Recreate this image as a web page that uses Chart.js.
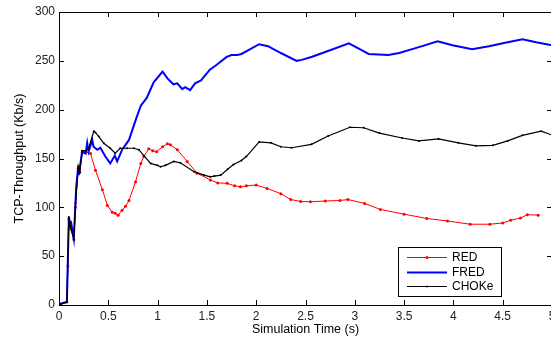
<!DOCTYPE html>
<html>
<head>
<meta charset="utf-8">
<script src="https://cdn.jsdelivr.net/npm/chart.js@4.4.1/dist/chart.umd.min.js"></script>
<style>
    html, body { margin: 0; padding: 0; background: #fff; overflow: hidden; }
</style>
</head>
<body>
<canvas id="mainChart" width="560" height="342"></canvas>
<script>
// valori
const redTime = [0, 0.08, 0.09, 0.1, 0.117, 0.15, 0.167, 0.195, 0.21, 0.235, 0.27, 0.32, 0.37, 0.44, 0.49, 0.54, 0.57, 0.6, 0.64, 0.675, 0.71, 0.776, 0.83, 0.86, 0.91, 0.95, 0.99, 1.05, 1.1, 1.13, 1.2, 1.3, 1.4, 1.535, 1.61, 1.706, 1.78, 1.84, 1.9, 2.0, 2.11, 2.25, 2.35, 2.45, 2.55, 2.7, 2.85, 2.93, 3.1, 3.26, 3.5, 3.73, 3.94, 4.17, 4.37, 4.5, 4.58, 4.68, 4.75, 4.86];
const redValue = [0, 3, 40, 88, 78, 67, 100, 140, 136, 156, 157, 155, 138, 118, 102, 95, 94, 92, 97, 101, 107, 126, 145, 152, 160, 158, 157, 162, 165, 164, 159, 147, 135, 128, 125, 124.6, 122, 121, 122, 122.8, 119.4, 114, 108, 106, 105.7, 106.5, 107, 108, 104, 97.8, 93, 88.6, 86, 82.7, 82.7, 84, 86.8, 89, 92.5, 92];

const fredTime = [0, 0.08, 0.1, 0.117, 0.12, 0.15, 0.167, 0.175, 0.195, 0.2, 0.21, 0.235, 0.27, 0.286, 0.3, 0.337, 0.35, 0.39, 0.42, 0.47, 0.52, 0.566, 0.59, 0.64, 0.71, 0.78, 0.83, 0.89, 0.96, 1.05, 1.1, 1.16, 1.2, 1.25, 1.28, 1.33, 1.38, 1.44, 1.53, 1.6, 1.7, 1.75, 1.81, 1.85, 1.94, 2.03, 2.12, 2.25, 2.41, 2.46, 2.56, 2.7, 2.94, 3.05, 3.14, 3.34, 3.45, 3.65, 3.84, 3.99, 4.19, 4.36, 4.55, 4.7, 4.84, 5.0];
const fredValue = [1, 3, 90, 80, 86, 68, 104, 121, 142, 133, 140, 157, 155, 166, 157, 169, 162, 159, 161, 152, 145, 153, 147, 159, 169, 190, 204, 212, 228, 239, 232, 226, 227, 221, 223, 220, 227, 230, 241, 246, 254, 256, 256, 257, 262, 267, 265, 258, 250, 251, 254, 259, 268, 262, 257, 256, 258, 264, 270, 266, 262, 265, 269, 272, 269, 266];

const chokeTime = [0, 0.08, 0.1, 0.117, 0.15, 0.167, 0.195, 0.21, 0.235, 0.27, 0.3, 0.353, 0.37, 0.404, 0.454, 0.52, 0.57, 0.62, 0.69, 0.76, 0.81, 0.86, 0.93, 0.997, 1.03, 1.08, 1.164, 1.23, 1.37, 1.47, 1.535, 1.575, 1.64, 1.71, 1.77, 1.85, 1.9, 2.03, 2.15, 2.25, 2.36, 2.56, 2.73, 2.95, 3.09, 3.25, 3.48, 3.65, 3.85, 4.05, 4.23, 4.4, 4.55, 4.7, 4.89, 5.0];
const chokeValue = [0, 3, 90, 80, 68, 104, 142, 136, 158, 158, 160, 178, 176.5, 172.5, 165.6, 160.5, 155.4, 160.5, 160.5, 160.5, 159, 153, 145, 143, 141.6, 143, 147, 145.6, 136.5, 133, 131.3, 132, 133, 139, 143.8, 148, 152, 167, 166, 162, 161, 164.5, 173, 182, 181.5, 176, 171, 168, 170, 166, 163, 163.5, 168, 173.7, 178, 174];

const xTicks = [0, 0.5, 1, 1.5, 2, 2.5, 3, 3.5, 4, 4.5, 5];
const yTicks = [0, 50, 100, 150, 200, 250, 300];
const seriesNames = ['RED', 'FRED', 'CHOKe'];

const toPoints = (t, v) => t.map((x, i) => ({ x: x, y: v[i] }));

Chart.defaults.font.family = '"Liberation Sans", Arial, sans-serif';
Chart.defaults.font.size = 12;
Chart.defaults.color = '#222';

// rama, tick-uri spre interior si legenda in colt
const matlabFrame = {
    id: 'matlabFrame',
    afterDatasetsDraw(chart) {
        const { ctx, chartArea: a, scales: { x, y } } = chart;
        ctx.save();
        ctx.strokeStyle = '#000';
        ctx.lineWidth = 1;
        ctx.strokeRect(Math.round(a.left) + 0.5, Math.round(a.top) + 0.5, Math.round(a.right - a.left), Math.round(a.bottom - a.top));
        ctx.beginPath();
        xTicks.forEach(v => {
            const px = Math.round(x.getPixelForValue(v)) + 0.5;
            ctx.moveTo(px, a.bottom); ctx.lineTo(px, a.bottom - 5);
            ctx.moveTo(px, a.top); ctx.lineTo(px, a.top + 5);
        });
        yTicks.forEach(v => {
            const py = Math.round(y.getPixelForValue(v)) + 0.5;
            ctx.moveTo(a.left, py); ctx.lineTo(a.left + 5, py);
            ctx.moveTo(a.right, py); ctx.lineTo(a.right - 5, py);
        });
        ctx.stroke();

        // legenda
        const bx = 398.5, by = 247.5, bw = 103, bh = 49;
        ctx.fillStyle = '#fff';
        ctx.fillRect(bx, by, bw, bh);
        ctx.strokeRect(bx, by, bw, bh);
        ctx.font = '12px "Liberation Sans", Arial, sans-serif';
        ctx.textBaseline = 'middle';
        const rows = [257.5, 272.5, 286.5];
        chart.data.datasets.forEach((ds, i) => {
            const ry = rows[i];
            ctx.strokeStyle = ds.borderColor;
            ctx.lineWidth = ds.borderWidth;
            ctx.beginPath();
            ctx.moveTo(407, ry); ctx.lineTo(447, ry);
            ctx.stroke();
            if (ds.pointRadius > 0) {
                ctx.fillStyle = ds.borderColor;
                ctx.beginPath();
                ctx.arc(427, ry, ds.pointRadius, 0, Math.PI * 2);
                ctx.fill();
            }
            ctx.fillStyle = '#000';
            ctx.fillText(ds.label, 452, ry + 0.5);
        });
        ctx.restore();
    }
};

new Chart(document.getElementById('mainChart'), {
    type: 'line',
    data: {
        datasets: [{
            label: seriesNames[0],
            data: toPoints(redTime, redValue),
            borderColor: '#ff0000',
            backgroundColor: '#ff0000',
            borderWidth: 1,
            pointRadius: 1.5,
            pointBorderWidth: 0,
            order: 2
        }, {
            label: seriesNames[1],
            data: toPoints(fredTime, fredValue),
            borderColor: '#0000ff',
            backgroundColor: '#0000ff',
            borderWidth: 2,
            pointRadius: 0,
            order: 1
        }, {
            label: seriesNames[2],
            data: toPoints(chokeTime, chokeValue),
            borderColor: '#000000',
            backgroundColor: '#000000',
            borderWidth: 1.2,
            pointRadius: 1,
            pointBorderWidth: 0,
            order: 0
        }]
    },
    options: {
        responsive: false,
        animation: false,
        events: [],
        layout: { padding: { top: 12, right: 8, left: 0, bottom: 0 } },
        plugins: { legend: { display: false }, tooltip: { enabled: false } },
        elements: { line: { tension: 0 } },
        scales: {
            x: {
                type: 'linear', min: 0, max: 5,
                afterBuildTicks: s => { s.ticks = xTicks.map(v => ({ value: v })); },
                afterFit: s => { s.height = 37; },
                grid: { display: false, drawTicks: false },
                border: { display: false },
                ticks: { padding: 4, maxRotation: 0, callback: v => String(v) },
                title: { display: true, text: 'Simulation Time (s)', color: '#000', font: { size: 12.5 }, padding: { top: 5, bottom: 5 } }
            },
            y: {
                type: 'linear', min: 0, max: 300,
                afterBuildTicks: s => { s.ticks = yTicks.map(v => ({ value: v })); },
                afterFit: s => { s.width = 59; },
                grid: { display: false, drawTicks: false },
                border: { display: false },
                ticks: { padding: 4, callback: v => String(v) },
                title: { display: true, text: 'TCP-Throughput (Kb/s)', color: '#000', font: { size: 12.5 }, padding: { top: 12, bottom: 12 } }
            }
        }
    },
    plugins: [matlabFrame]
});
</script>
</body>
</html>
